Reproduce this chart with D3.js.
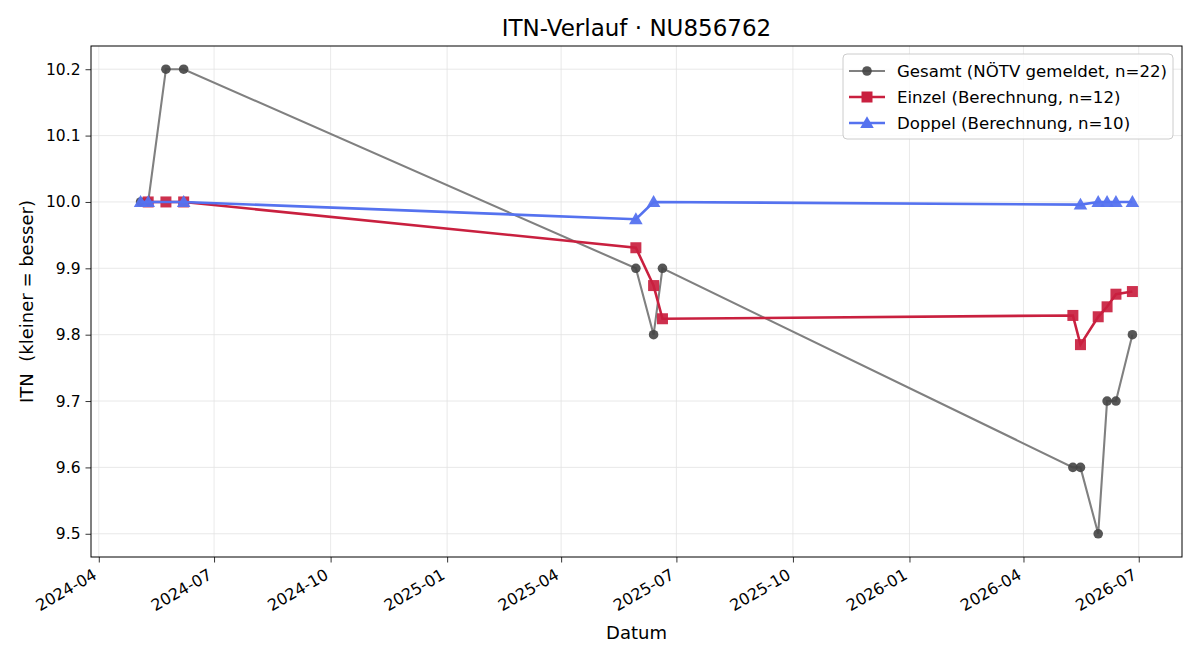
<!DOCTYPE html>
<html>
<head>
<meta charset="utf-8">
<script src="https://cdn.jsdelivr.net/npm/d3@7"></script>
<style>
body{margin:0;background:#fff;}
svg, svg text{font-family:"DejaVu Sans",sans-serif;}
</style>
</head>
<body>
<svg id="chart" width="1200" height="660"></svg>
<script>
// data
var gesamtDates = ["2024-05-04","2024-05-10","2024-05-24","2024-06-07",
    "2025-05-30","2025-06-13","2025-06-20",
    "2026-05-10","2026-05-16","2026-05-30","2026-06-06","2026-06-13","2026-06-26"];
var gesamtVals = [10.0,10.0,10.2,10.2, 9.9,9.8,9.9, 9.6,9.6,9.5,9.7,9.7,9.8];

var einzelDates = ["2024-05-10","2024-05-24","2024-06-07",
    "2025-05-30","2025-06-13","2025-06-20",
    "2026-05-10","2026-05-16","2026-05-30","2026-06-06","2026-06-13","2026-06-26"];
var einzelVals = [10.0,10.0,10.0, 9.931,9.874,9.824, 9.829,9.785,9.827,9.842,9.861,9.865];

var doppelDates = ["2024-05-04","2024-05-10","2024-06-07",
    "2025-05-30","2025-06-13",
    "2026-05-16","2026-05-30","2026-06-06","2026-06-13","2026-06-26"];
var doppelVals = [10.0,10.0,10.0, 9.974,10.0, 9.996,10.0,10.0,10.0,10.0];

var yTicks = [9.5,9.6,9.7,9.8,9.9,10.0,10.1,10.2];
var xTickDates = ["2024-04-01","2024-07-01","2024-10-01","2025-01-01","2025-04-01",
    "2025-07-01","2025-10-01","2026-01-01","2026-04-01","2026-07-01"];

var seriesNames = ["Gesamt (NÖTV gemeldet, n=22)","Einzel (Berechnung, n=12)","Doppel (Berechnung, n=10)"];

var parse = d3.timeParse("%Y-%m-%d");
function zipSeries(dates, vals){
    var out = [];
    for (var i=0; i<dates.length; i++){ out.push({d:parse(dates[i]), v:vals[i]}); }
    return out;
}
var gesamt = zipSeries(gesamtDates, gesamtVals);
var einzel = zipSeries(einzelDates, einzelVals);
var doppel = zipSeries(doppelDates, doppelVals);

var margin = {left:91, right:18, top:46, bottom:103};
var W = 1200, H = 660;
var pw = W - margin.left - margin.right, ph = H - margin.top - margin.bottom;
var FONT = "DejaVu Sans";

var svg = d3.select("#chart");
var g = svg.append("g").attr("transform","translate("+margin.left+","+margin.top+")");

// matplotlib style 5% padding
var all = gesamt.concat(einzel, doppel);
var xExt = d3.extent(all, function(p){return +p.d;});
var yExt = [9.5, 10.2];
var xPad = (xExt[1]-xExt[0])*0.05, yPad = (yExt[1]-yExt[0])*0.05;
var x = d3.scaleTime().domain([new Date(xExt[0]-xPad), new Date(xExt[1]+xPad)]).range([0,pw]);
var y = d3.scaleLinear().domain([yExt[0]-yPad, yExt[1]+yPad]).range([ph,0]);

var fmt = d3.timeFormat("%Y-%m");
var xTicks = xTickDates.map(parse);

// grid
g.append("g").selectAll("line").data(xTicks).enter().append("line")
    .attr("x1",function(d){return x(d);}).attr("x2",function(d){return x(d);})
    .attr("y1",0).attr("y2",ph).attr("stroke","#e3e3e3").attr("stroke-width",0.8);
g.append("g").selectAll("line").data(yTicks).enter().append("line")
    .attr("y1",function(d){return y(d);}).attr("y2",function(d){return y(d);})
    .attr("x1",0).attr("x2",pw).attr("stroke","#e3e3e3").attr("stroke-width",0.8);

// axes
var xAxis = g.append("g").attr("transform","translate(0,"+ph+")")
    .call(d3.axisBottom(x).tickValues(xTicks).tickFormat(fmt).tickSize(5.5).tickPadding(3));
xAxis.attr("font-family",FONT).attr("font-size",16);
xAxis.select(".domain").remove();
xAxis.selectAll("text").attr("fill","#000")
    .attr("text-anchor","end").attr("dy","0")
    .attr("y",0).attr("x",0)
    .attr("transform","translate(-1.5,21) rotate(-30)");
xAxis.selectAll("line").attr("stroke","#000").attr("stroke-width",0.8);

var yAxis = g.append("g")
    .call(d3.axisLeft(y).tickValues(yTicks).tickFormat(d3.format(".1f")).tickSize(5.5).tickPadding(5));
yAxis.attr("font-family",FONT).attr("font-size",15.5);
yAxis.select(".domain").remove();
yAxis.selectAll("text").attr("fill","#000");
yAxis.selectAll("line").attr("stroke","#000").attr("stroke-width",0.8);

var line = d3.line().x(function(p){return x(p.d);}).y(function(p){return y(p.v);});

// Gesamt
g.append("path").datum(gesamt).attr("d",line).attr("fill","none")
    .attr("stroke","#808080").attr("stroke-width",2.1);
g.append("g").selectAll("circle").data(gesamt).enter().append("circle")
    .attr("cx",function(p){return x(p.d);}).attr("cy",function(p){return y(p.v);})
    .attr("r",4.8).attr("fill","#444").attr("fill-opacity",0.9);

// Einzel
var red = "#c9203f";
g.append("path").datum(einzel).attr("d",line).attr("fill","none")
    .attr("stroke",red).attr("stroke-width",2.6);
g.append("g").selectAll("rect").data(einzel).enter().append("rect")
    .attr("x",function(p){return x(p.d)-5.5;}).attr("y",function(p){return y(p.v)-5.5;})
    .attr("width",11).attr("height",11).attr("fill",red).attr("fill-opacity",0.92);

// Doppel
var blue = "#5572ef";
var tri = d3.symbol().type(d3.symbolTriangle).size(80);
g.append("path").datum(doppel).attr("d",line).attr("fill","none")
    .attr("stroke",blue).attr("stroke-width",2.6);
g.append("g").selectAll("path").data(doppel).enter().append("path")
    .attr("d",tri)
    .attr("transform",function(p){return "translate("+x(p.d)+","+(y(p.v)+1)+")";})
    .attr("fill",blue).attr("fill-opacity",0.95);

// frame
g.append("rect").attr("width",pw).attr("height",ph).attr("fill","none")
    .attr("stroke","#000").attr("stroke-width",1);

// title & labels
svg.append("text").attr("x",margin.left+pw/2).attr("y",36).attr("text-anchor","middle")
    .attr("font-size","23px").text("ITN-Verlauf · NU856762");
svg.append("text").attr("x",margin.left+pw/2).attr("y",639).attr("text-anchor","middle")
    .attr("font-size","18px").text("Datum");
svg.append("text").attr("transform","translate(33,"+(margin.top+ph/2)+") rotate(-90)")
    .attr("text-anchor","middle").attr("font-size","18px")
    .style("white-space","pre").attr("xml:space","preserve")
    .text("ITN  (kleiner = besser)");

// legend
var lg = svg.append("g").attr("transform","translate(843,54)");
lg.append("rect").attr("width",330).attr("height",85).attr("rx",4)
    .attr("fill","#fff").attr("fill-opacity",0.85).attr("stroke","#ccc");
var legColors = ["#808080", red, blue];
seriesNames.forEach(function(name, i){
    var ly = 17 + i*26;
    lg.append("line").attr("x1",6).attr("x2",42).attr("y1",ly).attr("y2",ly)
        .attr("stroke",legColors[i]).attr("stroke-width", i==0 ? 2.1 : 2.6);
    if (i==0){
        lg.append("circle").attr("cx",24).attr("cy",ly).attr("r",4.8).attr("fill","#444").attr("fill-opacity",0.9);
    }else if (i==1){
        lg.append("rect").attr("x",18.5).attr("y",ly-5.5).attr("width",11).attr("height",11).attr("fill",red);
    }else{
        lg.append("path").attr("d",tri).attr("transform","translate(24,"+(ly+1)+")").attr("fill",blue);
    }
    lg.append("text").attr("x",54).attr("y",ly).attr("dy","0.35em")
        .attr("font-size","16.6px").text(name);
});
</script>
</body>
</html>
